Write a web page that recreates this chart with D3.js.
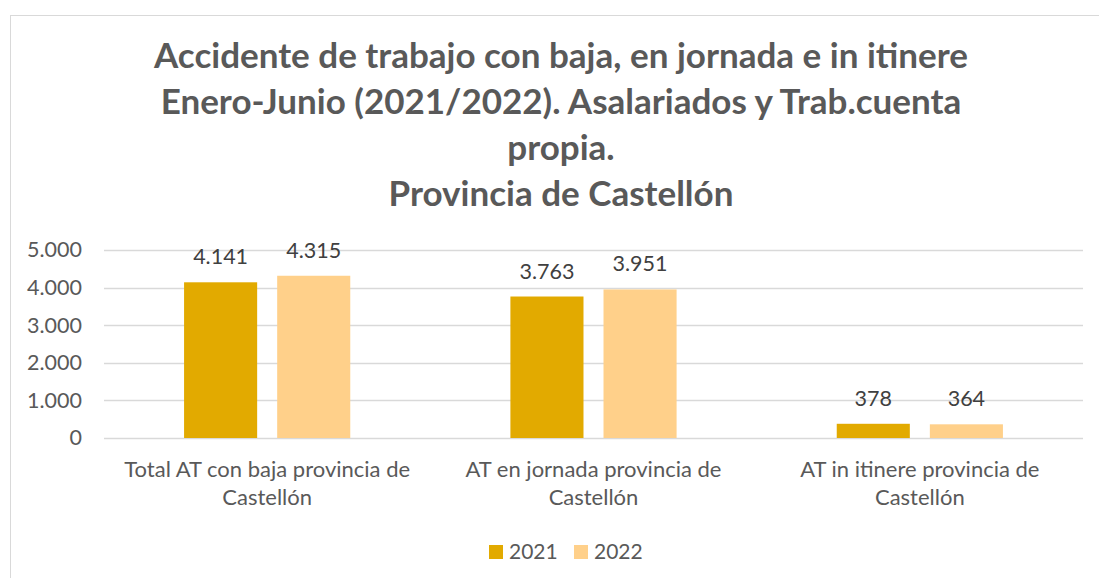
<!DOCTYPE html>
<html>
<head>
<meta charset="utf-8">
<script src="https://cdn.jsdelivr.net/npm/d3@7"></script>
<style>
  body { margin: 0; background: #fff; }
  text { font-family: Lato, "Open Sans", sans-serif; }
</style>
</head>
<body>
<svg id="chart" width="1099" height="578"></svg>
<script>
// data
var categories = ["Total AT con baja provincia de Castellón", "AT en jornada provincia de Castellón", "AT in itinere provincia de Castellón"];
var catLines = [["Total AT con baja provincia de", "Castellón"], ["AT en jornada provincia de", "Castellón"], ["AT in itinere provincia de", "Castellón"]];
var years = ["2021", "2022"];
var values2021 = [4141, 3763, 378];
var values2022 = [4315, 3951, 364];
var yTicks = [0, 1000, 2000, 3000, 4000, 5000];
var titleLines = ["Accidente de trabajo con baja, en jornada e in itinere", "Enero-Junio (2021/2022). Asalariados y Trab.cuenta", "propia.", "Provincia de Castellón"];

var colors = {"2021": "#E2AA00", "2022": "#FFD08A"};
var fmt = function(v) { return d3.format(",")(v).replace(/,/g, "."); };

var svg = d3.select("#chart");

// outer frame
svg.append("rect").attr("x", 10.5).attr("y", 15.5).attr("width", 1100).attr("height", 600)
  .attr("fill", "#fff").attr("stroke", "#d9d9d9").attr("stroke-width", 1);

// title
svg.append("g").selectAll("text").data(titleLines).enter().append("text")
  .attr("x", 561).attr("y", function(d, i) { return 68 + i * 46; })
  .attr("text-anchor", "middle").attr("font-weight", "bold").attr("font-size", 35)
  .attr("fill", "#595959").text(function(d) { return d; });

var x0 = d3.scaleBand().domain(categories).range([104, 1083]);
var x1 = d3.scaleBand().domain(years).range([0, x0.bandwidth()]).paddingInner(0.215).paddingOuter(0.86);
var y = d3.scaleLinear().domain([0, 5000]).range([438, 250]);

// gridlines
svg.append("g").selectAll("line").data(yTicks).enter().append("line")
  .attr("x1", 104).attr("x2", 1083)
  .attr("y1", function(d) { return Math.round(y(d)) + 0.5; })
  .attr("y2", function(d) { return Math.round(y(d)) + 0.5; })
  .attr("stroke", "#d9d9d9").attr("stroke-width", 1.3);

// y axis labels
var yAxis = d3.axisLeft(y).tickValues(yTicks).tickFormat(fmt).tickSize(0).tickPadding(0);
var ya = svg.append("g").attr("transform", "translate(82,0)").call(yAxis);
ya.select(".domain").remove();
ya.selectAll("text").attr("font-size", 21.5).attr("fill", "#595959").attr("font-family", "Lato, 'Open Sans', sans-serif");

// bars
var series = years.map(function(yr, k) {
  var vals = k === 0 ? values2021 : values2022;
  return categories.map(function(c, i) { return {cat: c, year: yr, value: vals[i]}; });
});
var flat = [].concat.apply([], series);

svg.append("g").selectAll("rect").data(flat).enter().append("rect")
  .attr("x", function(d) { return x0(d.cat) + x1(d.year); })
  .attr("width", x1.bandwidth())
  .attr("y", function(d) { return y(d.value); })
  .attr("height", function(d) { return y(0) - y(d.value); })
  .attr("fill", function(d) { return colors[d.year]; });

// data labels
svg.append("g").selectAll("text").data(flat).enter().append("text")
  .attr("x", function(d) { return x0(d.cat) + x1(d.year) + x1.bandwidth() / 2; })
  .attr("y", function(d) { return y(d.value) - 18; })
  .attr("text-anchor", "middle").attr("font-size", 21.5).attr("fill", "#404040")
  .text(function(d) { return fmt(d.value); });

// category labels
var cg = svg.append("g").selectAll("text").data(categories).enter().append("text")
  .attr("text-anchor", "middle").attr("font-size", 22).attr("fill", "#595959")
  .attr("transform", function(d) { return "translate(" + (x0(d) + x0.bandwidth() / 2) + ",0)"; });
cg.selectAll("tspan").data(function(d, i) { return catLines[i]; }).enter().append("tspan")
  .attr("x", 0).attr("y", function(d, i) { return 477 + i * 28; })
  .text(function(d) { return d; });

// legend
var lg = svg.append("g").selectAll("g").data(years).enter().append("g")
  .attr("transform", function(d, i) { return "translate(" + (489 + i * 85) + ",545)"; });
lg.append("rect").attr("width", 14).attr("height", 14).attr("fill", function(d) { return colors[d]; });
lg.append("text").attr("x", 20).attr("y", 13.5).attr("font-size", 21).attr("fill", "#595959")
  .text(function(d) { return d; });
</script>
</body>
</html>
